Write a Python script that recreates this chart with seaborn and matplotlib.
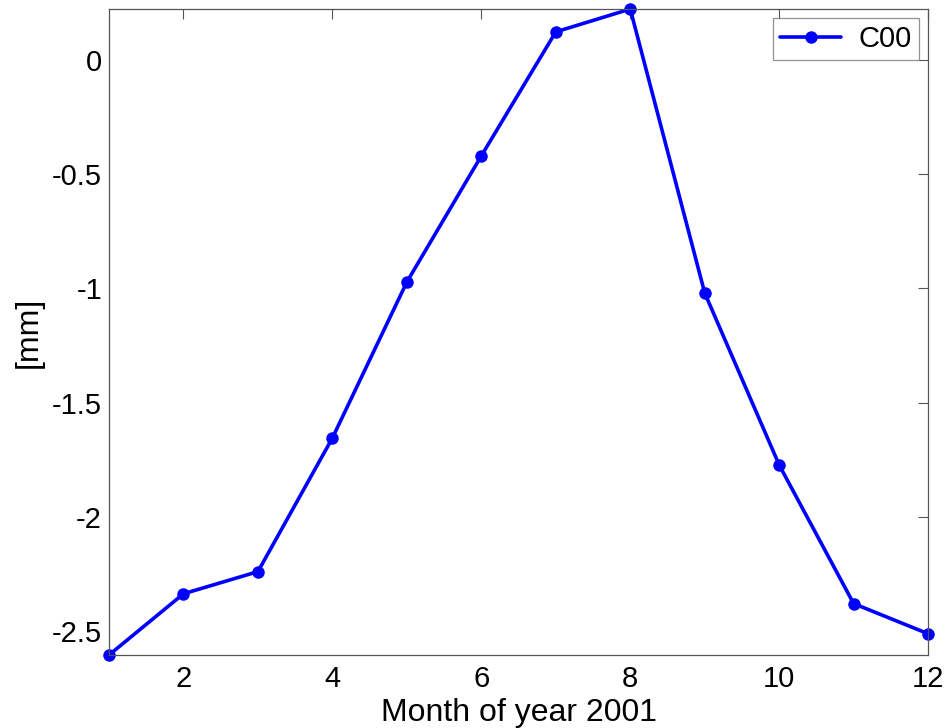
import pandas as pd
import matplotlib
matplotlib.use("Agg")
import matplotlib.pyplot as plt
import seaborn as sns

months = [1, 2, 3, 4, 5, 6, 7, 8, 9, 10, 11, 12]
c00 = [-2.605, -2.337, -2.240, -1.655, -0.972, -0.420, 0.123, 0.223,
       -1.020, -1.773, -2.380, -2.512]
yticks = [-2.5, -2, -1.5, -1, -0.5, 0]
ytick_labels = ["-2.5", "-2", "-1.5", "-1", "-0.5", "0"]
xticks = [2, 4, 6, 8, 10, 12]

df = pd.DataFrame({"month": months, "value": c00, "series": "C00"})

sns.set_style("white")
plt.rcParams["font.family"] = ["Liberation Sans", "DejaVu Sans"]
plt.rcParams["text.color"] = "black"
plt.rcParams["axes.labelcolor"] = "black"
plt.rcParams["xtick.color"] = "black"
plt.rcParams["ytick.color"] = "black"

fig = plt.figure(figsize=(9.48, 7.28), dpi=100)
ax = fig.add_axes([0.115, 0.1003, 0.864, 0.8873])

sns.lineplot(data=df, x="month", y="value", hue="series", palette=["#0000ff"],
             marker="o", markersize=9, markeredgewidth=0, linewidth=2.6,
             clip_on=False, ax=ax)

ax.set_xlim(1, 12)
ax.set_ylim(min(c00), max(c00))
ax.set_xticks(xticks)
ax.set_xticklabels([str(t) for t in xticks])
ax.set_yticks(yticks)
ax.set_yticklabels(ytick_labels)
ax.tick_params(direction="in", length=7, width=0.8, color="#555555",
               labelcolor="black", labelsize=21, top=True, right=True)
ax.tick_params(axis="y", pad=5)
ax.tick_params(axis="x", pad=7)
for s in ax.spines.values():
    s.set_visible(True)
    s.set_color("#555555")
    s.set_linewidth(0.9)

ax.set_xlabel("Month of year 2001", fontsize=23, labelpad=4, color="black")
ax.set_ylabel("[mm]", fontsize=23, labelpad=6, color="black")

leg = ax.legend(loc="upper right", fontsize=21, frameon=True, fancybox=False,
                borderaxespad=0.3, handlelength=2.1, borderpad=0.25,
                handletextpad=0.6)
leg.get_frame().set_edgecolor("#777777")
leg.get_frame().set_linewidth(0.9)
for t in leg.get_texts():
    t.set_color("black")

plt.savefig("out.png", dpi=100)
